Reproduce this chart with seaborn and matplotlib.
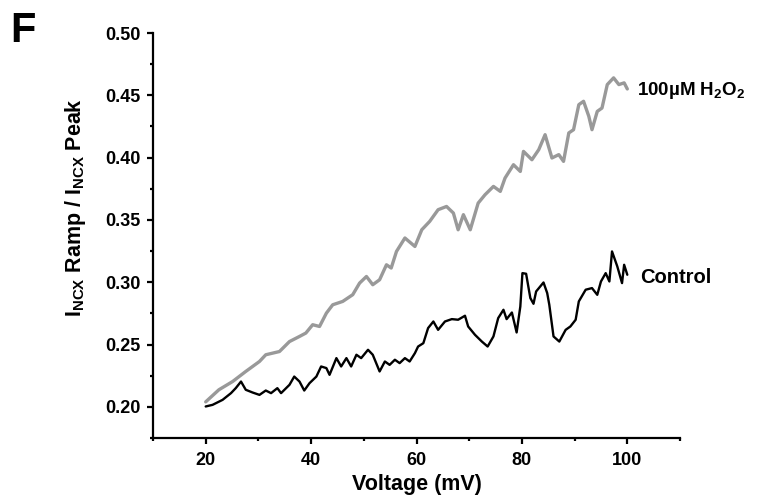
import matplotlib
matplotlib.use("Agg")
import matplotlib.pyplot as plt
from matplotlib.ticker import MultipleLocator
import seaborn as sns
import pandas as pd

# Data
volt_h2o2 = [20.0, 22.5, 25.1, 27.6, 30.2, 31.4, 34.0, 35.9, 37.8, 39.0, 40.3, 41.6,
             42.9, 44.1, 46.0, 47.9, 49.2, 50.5, 51.7, 53.0, 54.3, 55.2, 56.2, 57.8,
             59.7, 61.0, 62.5, 64.1, 65.7, 67.0, 67.9, 68.9, 70.2, 71.7, 73.0, 74.6,
             75.9, 76.8, 78.4, 79.7, 80.3, 81.9, 83.2, 84.4, 85.7, 87.0, 87.9, 88.9,
             89.8, 90.8, 91.7, 92.7, 93.3, 94.3, 95.2, 96.2, 97.4, 98.4, 99.4, 100.0]
ratio_h2o2 = [0.204, 0.2137, 0.2203, 0.2284, 0.2364, 0.2418, 0.2444, 0.2524, 0.2565,
              0.2592, 0.2659, 0.2645, 0.2752, 0.2819, 0.2846, 0.2900, 0.2993, 0.3046,
              0.2980, 0.3020, 0.3140, 0.3114, 0.3247, 0.3355, 0.3287, 0.3421, 0.3488,
              0.3582, 0.3608, 0.3555, 0.3421, 0.3542, 0.3421, 0.3635, 0.3702, 0.3769,
              0.3729, 0.3836, 0.3943, 0.3889, 0.4050, 0.3983, 0.4064, 0.4184, 0.3997,
              0.4024, 0.3970, 0.4198, 0.4224, 0.4425, 0.4452, 0.4331, 0.4224, 0.4371,
              0.4398, 0.4586, 0.4640, 0.4586, 0.4600, 0.4551]

volt_ctrl = [20.0, 21.3, 23.2, 24.8, 25.7, 26.7, 27.6, 28.9, 30.2, 31.4, 32.4, 33.6,
             34.3, 35.9, 36.8, 37.8, 38.7, 39.7, 41.0, 41.9, 42.9, 43.5, 44.8, 45.7,
             46.7, 47.6, 48.6, 49.5, 50.8, 51.7, 53.0, 54.0, 54.9, 55.9, 56.8, 57.8,
             58.7, 59.7, 60.3, 61.3, 62.2, 63.2, 64.1, 65.4, 66.7, 67.9, 69.2, 69.8,
             71.1, 72.4, 73.5, 74.6, 75.5, 76.5, 77.1, 78.1, 79.0, 79.7, 80.1, 80.8,
             81.6, 82.2, 82.7, 84.1, 84.8, 85.2, 86.0, 87.1, 88.3, 89.2, 90.2, 90.8,
             92.1, 93.3, 94.3, 95.0, 95.9, 96.6, 97.1, 98.1, 99.0, 99.4, 100.0]
ratio_ctrl = [0.2003, 0.2016, 0.2056, 0.2110, 0.2150, 0.2203, 0.2137, 0.2115, 0.2096,
              0.2131, 0.2110, 0.2150, 0.2110, 0.2177, 0.2243, 0.2203, 0.2131, 0.2190,
              0.2243, 0.2324, 0.2311, 0.2257, 0.2391, 0.2324, 0.2391, 0.2324, 0.2418,
              0.2391, 0.2458, 0.2418, 0.2284, 0.2364, 0.2337, 0.2378, 0.2351, 0.2391,
              0.2364, 0.2431, 0.2484, 0.2511, 0.2632, 0.2685, 0.2618, 0.2685, 0.2704,
              0.2699, 0.2731, 0.2645, 0.2578, 0.2524, 0.2484, 0.2565, 0.2712, 0.2779,
              0.2704, 0.2757, 0.2597, 0.2805, 0.3073, 0.3068, 0.2873, 0.2827, 0.2926,
              0.2998, 0.2913, 0.2819, 0.2565, 0.2524, 0.2618, 0.2645, 0.2699, 0.2846,
              0.2940, 0.2953, 0.2899, 0.3006, 0.3073, 0.3006, 0.3247, 0.3127, 0.2993,
              0.3140, 0.3060]

x_ticks = [20, 40, 60, 80, 100]
y_ticks = [0.20, 0.25, 0.30, 0.35, 0.40, 0.45, 0.50]

sns.set_style("ticks")
plt.rcParams['font.family'] = ['Liberation Sans', 'DejaVu Sans']
plt.rcParams['font.weight'] = 'bold'
plt.rcParams['mathtext.fontset'] = 'custom'
plt.rcParams['mathtext.rm'] = 'Liberation Sans:bold'
plt.rcParams['mathtext.bf'] = 'Liberation Sans:bold'
plt.rcParams['mathtext.it'] = 'Liberation Sans:bold'
plt.rcParams['mathtext.default'] = 'bf'
for k in ['text.color', 'axes.labelcolor', 'xtick.color', 'ytick.color', 'axes.edgecolor']:
    plt.rcParams[k] = 'black'

fig = plt.figure(figsize=(7.58, 4.97), dpi=100)
ax = fig.add_axes([153/758, 1-438/497, (680-153)/758, (438-33)/497])

df_h = pd.DataFrame({'V': volt_h2o2, 'R': ratio_h2o2})
df_c = pd.DataFrame({'V': volt_ctrl, 'R': ratio_ctrl})
sns.lineplot(data=df_h, x='V', y='R', ax=ax, color='#999999', linewidth=2.4, estimator=None)
sns.lineplot(data=df_c, x='V', y='R', ax=ax, color='black', linewidth=1.7, estimator=None)

ax.set_xlim(10, 110)
ax.set_ylim(0.175, 0.50)
ax.set_xticks(x_ticks)
ax.set_xticklabels([str(t) for t in x_ticks])
ax.set_yticks(y_ticks)
ax.set_yticklabels([f"{t:.2f}" for t in y_ticks])
ax.xaxis.set_minor_locator(MultipleLocator(10))
ax.yaxis.set_minor_locator(MultipleLocator(0.025))

sns.despine(ax=ax)
for s in ['left', 'bottom']:
    ax.spines[s].set_linewidth(1.6)
    ax.spines[s].set_color('black')
ax.tick_params(which='major', direction='out', length=4, width=1.6, labelsize=13,
               pad=5, colors='black')
ax.tick_params(axis='x', which='major', pad=6)
ax.tick_params(which='minor', direction='out', length=2.5, width=1.6, colors='black')
for lab in ax.get_xticklabels() + ax.get_yticklabels():
    lab.set_fontweight('bold')

ax.set_xlabel('Voltage (mV)', fontsize=15.5, fontweight='bold', color='black')
ax.xaxis.set_label_coords(0.5, -0.114)
ax.xaxis.label.set_va('center')
ax.set_ylabel(r'I$_{NCX}$ Ramp / I$_{NCX}$ Peak', fontsize=15.5, fontweight='bold',
              color='black')
ax.yaxis.set_label_coords(-0.148, 0.57)
ax.yaxis.label.set_va('center')

ax.text(101.9, 0.4505, r'100µM H$_2$O$_2$', fontsize=13.5, fontweight='bold',
        ha='left', va='baseline', color='black')
ax.text(102.4, 0.2993, 'Control', fontsize=14.5, fontweight='bold',
        ha='left', va='baseline', color='black')

fig.text(10/758, 1-42/497, 'F', fontsize=30, fontweight='bold', ha='left',
         va='baseline', color='black')

fig.savefig('out.png', dpi=100)
